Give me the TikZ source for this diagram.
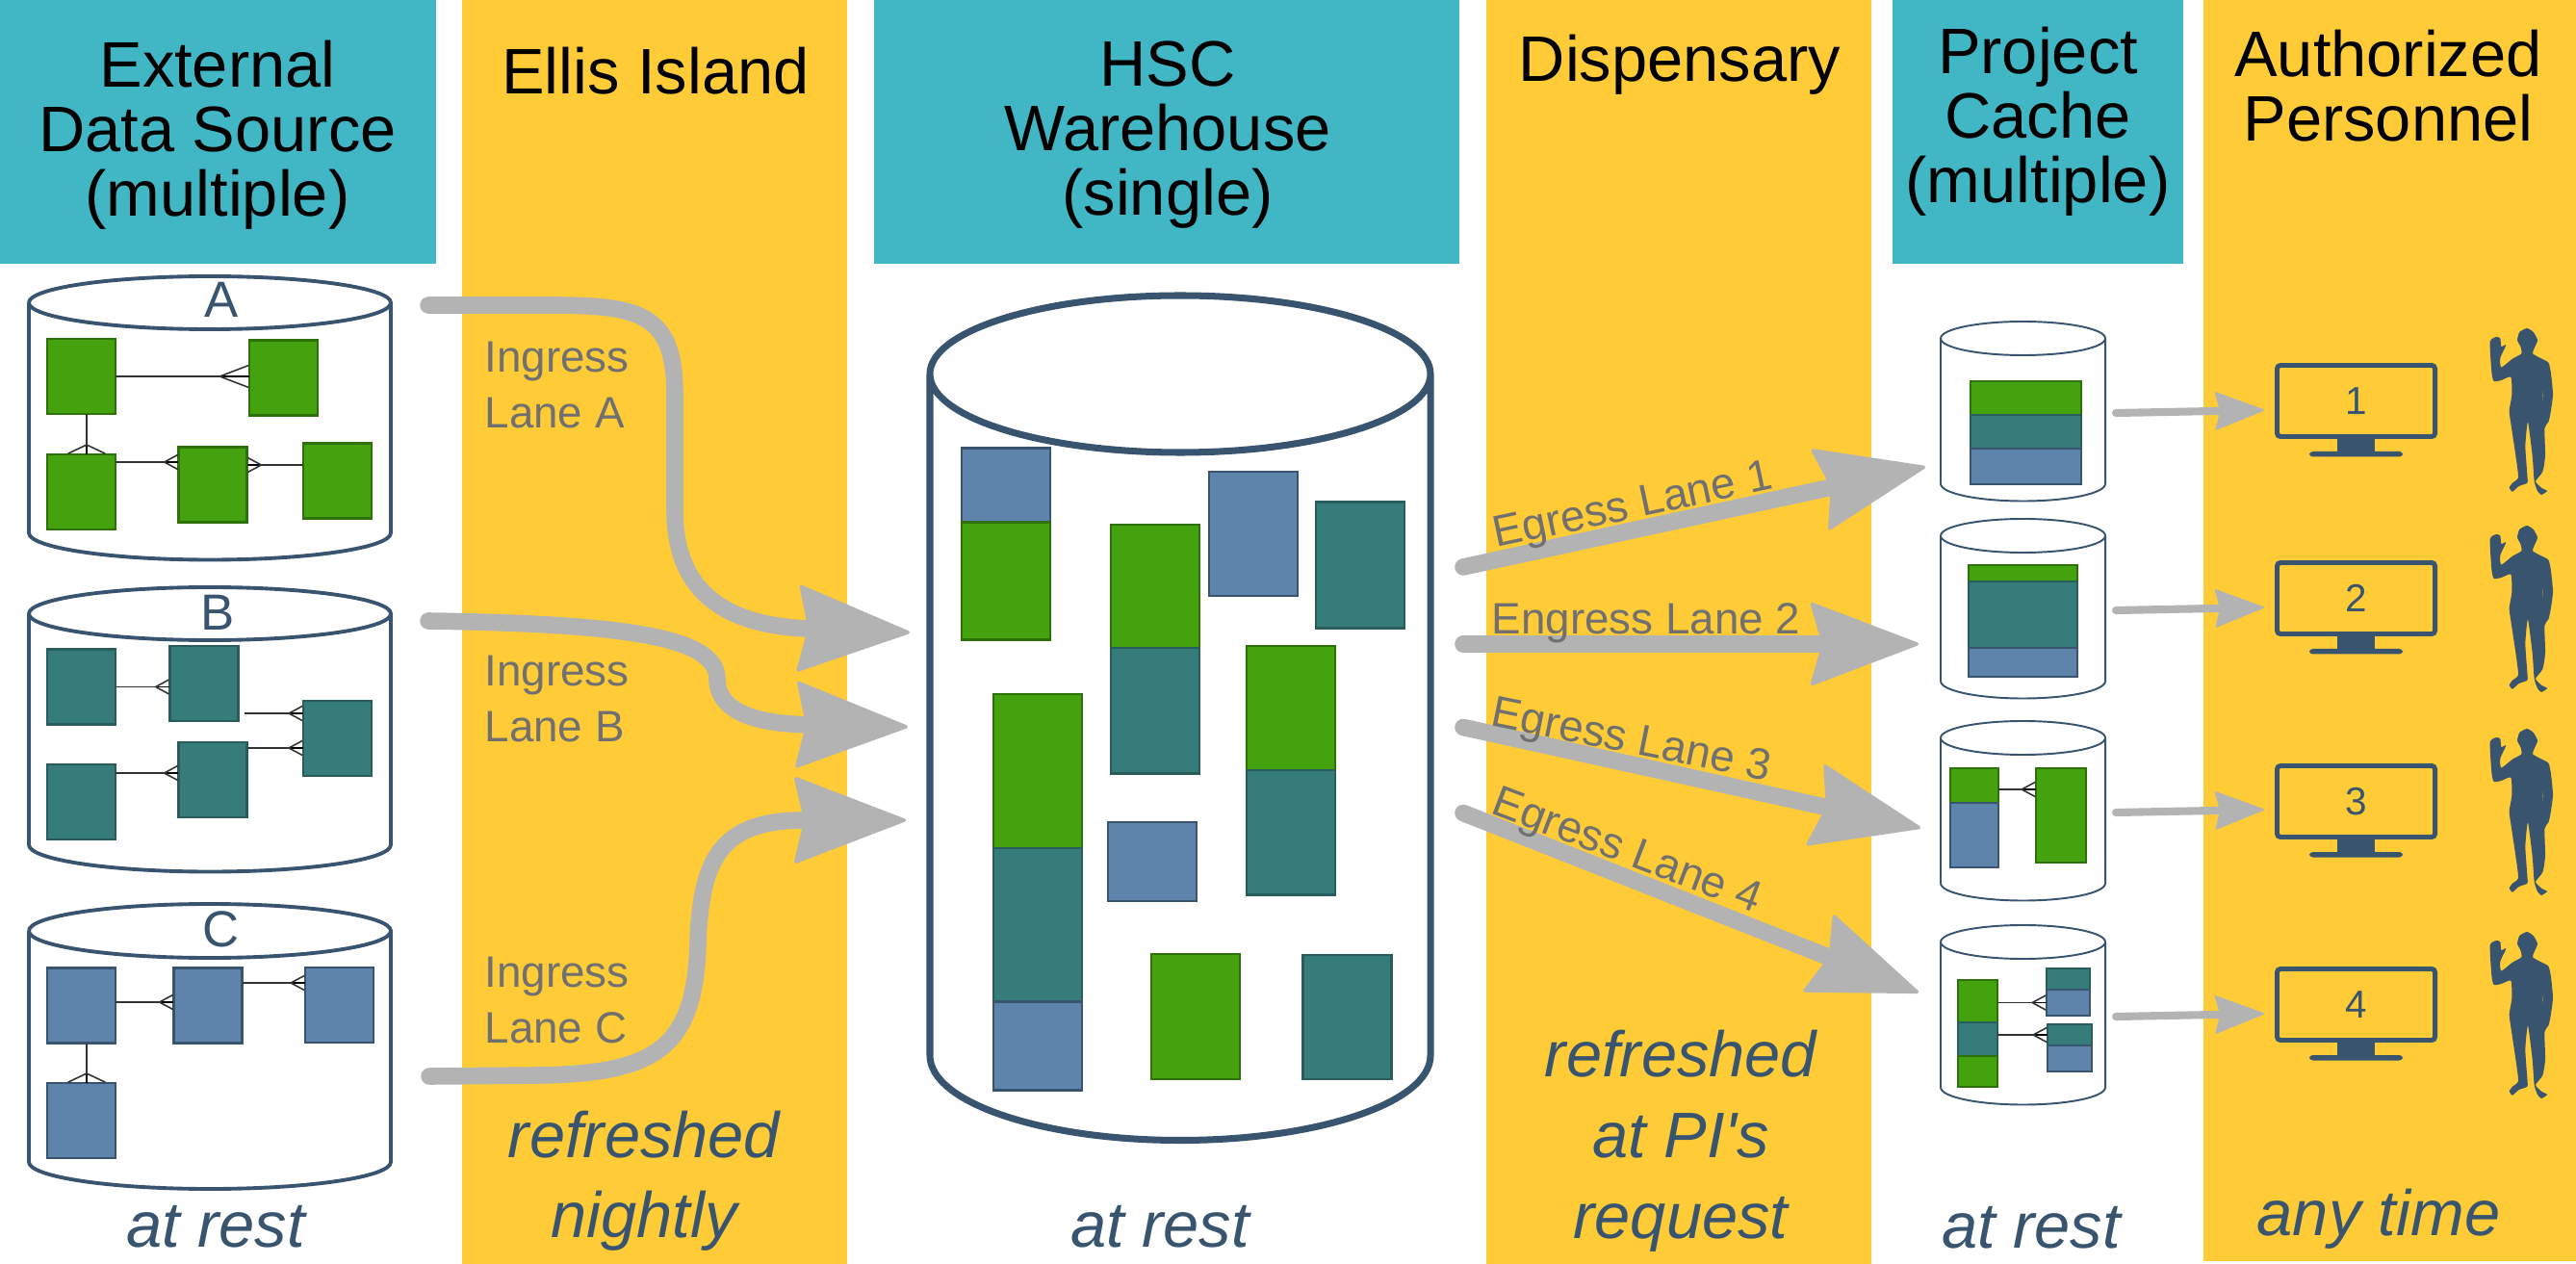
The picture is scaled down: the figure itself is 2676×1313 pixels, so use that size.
\documentclass[tikz,border=0pt]{standalone}
\usepackage{fontspec}
\setmainfont{Liberation Sans}[Ligatures=TeXOff]
\usepackage{xcolor}
\usetikzlibrary{arrows.meta, positioning}
\definecolor{hdrteal}{RGB}{65, 182, 196}
\definecolor{hdryellow}{RGB}{255, 204, 55}
\definecolor{navy}{RGB}{56, 84, 111}
\definecolor{lanegray}{RGB}{179, 179, 179}
\definecolor{labelgray}{RGB}{112, 112, 112}
\definecolor{tblgreen}{RGB}{67, 162, 13}
\definecolor{tblteal}{RGB}{54, 124, 123}
\definecolor{tblblue}{RGB}{95, 132, 171}
% name, centre x, top y, x radius, y radius, height of the side, y radius of the bottom
\newcommand{\drum}[8][]{%
  \coordinate (#2east) at (#3+#5,#4+#6+#7/2);
  \draw[drumline, #1] (#3-#5,#4+#6) arc[start angle=180, end angle=540, x radius=#5, y radius=#6]
    (#3-#5,#4+#6) -- ++(0,#7) arc[start angle=180, end angle=0, x radius=#5, y radius=#8] -- ++(0,-#7);
}

\begin{document}
\begin{tikzpicture}[
          x=0.01cm, y=-0.01cm,
          tealcol/.style={rectangle, fill=hdrteal, draw=none, inner sep=0pt, outer sep=0pt},
          yellowcol/.style={rectangle, fill=hdryellow, draw=none, inner sep=0pt, outer sep=0pt},
          head/.style={align=center, font=\fontsize{19}{19}\selectfont, inner sep=0pt},
          note/.style={align=center, text=navy, font=\fontsize{19}{23.7}\selectfont\itshape, inner sep=0pt},
          lanelabel/.style={align=left, text=labelgray, font=\fontsize{13}{16.5}\selectfont, inner sep=0pt},
          drumline/.style={draw=navy, line width=1.1pt, line join=round},
          tbl/.style={rectangle, inner sep=0pt, outer sep=0pt, line width=0.8pt},
          gbox/.style={tbl, fill=tblgreen, draw=tblgreen!70!black},
          tbox/.style={tbl, fill=tblteal, draw=tblteal!75!black},
          bbox/.style={tbl, fill=tblblue, draw=navy},
          smallbox/.style={minimum width=0.71cm, minimum height=0.78cm},
          bigbox/.style={minimum width=0.92cm},
          crow/.style 2 args={line width=0.45pt, draw=black!80, -{Straight Barb[reversed, length=#1, width=#2]}, preaction={draw, -}},
          link/.style={crow={4pt}{4.3pt}},
          letter/.style={text=navy, font=\fontsize{15}{15}\selectfont, inner sep=0pt},
          lane/.style={draw=lanegray, line width=5pt, line cap=round, -{Stealth[length=33pt, width=25pt, inset=3.5pt, line width=1pt, round]}},
          ingress/.style={lane, -{Stealth[length=34pt, width=26pt, inset=3pt, line width=1pt, round]}},
          viewlane/.style={draw=lanegray, line width=2.3pt, line cap=round, -{Stealth[length=15pt, width=11.5pt, inset=1.5pt, line width=0.5pt, round]}},
          screen/.style={rectangle, draw=navy, line width=1.4pt, rounded corners=1pt, text=navy, font=\fontsize{11.5}{11.5}\selectfont, minimum width=1.64cm, minimum height=0.74cm, inner sep=0pt},
          person/.pic={
            \fill[navy, even odd rule, scale=0.3333]
              plot[smooth cycle, tension=0.35] coordinates {(195,33) (215,45) (228,70) (218,95) (213,112) (235,125) (262,140) (270,175) (276,240) (268,300) (262,325) (250,345) (252,430) (244,480) (222,510) (240,530) (258,540) (240,552) (228,540) (218,510) (212,430) (198,325) (190,400) (196,490) (196,515) (170,525) (150,542) (140,530) (150,515) (168,498) (160,430) (145,330) (140,290) (148,240) (145,185) (115,195) (92,198) (85,170) (80,75) (100,60) (112,65) (115,90) (130,85) (112,125) (115,155) (150,128) (178,112) (175,90) (165,70) (172,45)}
              (240,210) -- (248,282) -- (245,240) -- cycle;
          }
        ]
          \useasboundingbox (0,0) rectangle (2676,1313);

          % Columns
          \node[tealcol, minimum width=4.53cm, minimum height=2.74cm] (colext) at (226.5,137) {};
          \node[yellowcol, minimum width=4cm, minimum height=13.13cm] (colellis) at (680,656.5) {};
          \node[tealcol, minimum width=6.08cm, minimum height=2.74cm] (colhsc) at (1212,137) {};
          \node[yellowcol, minimum width=4cm, minimum height=13.13cm] (coldisp) at (1744,656.5) {};
          \node[tealcol, minimum width=3.02cm, minimum height=2.74cm] (colcache) at (2117,137) {};
          \node[yellowcol, minimum width=3.87cm, minimum height=13.1cm] (colpers) at (2482.5,655) {};

          % Headers
          \node[head] (hext) at (226,140) {External\\Data Source\\(multiple)};
          \node[head, anchor=base] (hellis) at (681,98) {Ellis Island};
          \node[head] (hhsc) at (1213,140) {HSC\\Warehouse\\(single)};
          \node[head, anchor=base] (hdisp) at (1745,85) {Dispensary};
          \node[head] (hcache) at (2117,126) {Project\\Cache\\(multiple)};
          \node[head] (hpers) at (2481,89) {Authorized\\Personnel};

          % Footers
          \node[note, anchor=base] (fext) at (224,1295) {at rest};
          \node[note, anchor=base] (fellis1) at (669,1202) {refreshed};
          \node[note, anchor=base] (fellis2) at (669,1285) {nightly};
          \node[note, anchor=base] (fhsc) at (1205,1295) {at rest};
          \node[note, anchor=base] (fdisp1) at (1746,1118) {refreshed};
          \node[note, anchor=base] (fdisp2) at (1746,1202) {at PI's};
          \node[note, anchor=base] (fdisp3) at (1746,1286) {request};
          \node[note, anchor=base] (fcache) at (2110,1296) {at rest};
          \node[note, anchor=base] (fpers) at (2471,1283) {any time};

          % External sources
          \drum{dba}{218}{287}{188}{27.5}{239}{28}
          \drum{dbb}{218}{610}{188}{27.5}{240}{28}
          \drum{dbc}{218}{939}{188}{28}{240}{28}
          \node[letter] (la) at (230,311) {A};
          \node[letter] (lb) at (226,636) {B};
          \node[letter] (lc) at (230,965) {C};

          % Source A tables
          \node[gbox, smallbox] (a1) at (84.5,391) {};
          \node[gbox, smallbox] (a2) at (294.5,392.5) {};
          \node[gbox, smallbox] (a3) at (84.5,511) {};
          \node[gbox, smallbox] (a4) at (221,503.5) {};
          \node[gbox, smallbox] (a5) at (350.5,499.5) {};
          \draw[crow={8.5pt}{6.5pt}] (a1.east) -- (a1.east -| a2.west);
          \draw[crow={2.6pt}{11pt}] (a1.south -| 90,0) -- (a3.north -| 90,0);
          \draw[link] (a3.east |- 0,480) -- (a4.west |- 0,480);
          \draw[link] (a5.west |- 0,483) -- (a4.east |- 0,483);

          % Source B tables
          \node[tbox, smallbox] (b1) at (84.5,713.5) {};
          \node[tbox, smallbox] (b2) at (212,710) {};
          \node[tbox, smallbox] (b3) at (350.5,767) {};
          \node[tbox, smallbox] (b4) at (221,810) {};
          \node[tbox, smallbox] (b5) at (84.5,833) {};
          \draw[link] (b1.east) -- (b1.east -| b2.west);
          \draw[link] ([xshift=0.6mm]b2.east |- 0,741) -- (b3.west |- 0,741);
          \draw[link] (b4.east |- 0,777) -- (b3.west |- 0,777);
          \draw[link] (b5.east |- 0,803) -- (b4.west |- 0,803);

          % Source C tables
          \node[bbox, smallbox] (c1) at (84.5,1044.5) {};
          \node[bbox, smallbox] (c2) at (216,1044.5) {};
          \node[bbox, smallbox] (c3) at (352.5,1044) {};
          \node[bbox, smallbox] (c4) at (84.5,1164) {};
          \draw[link] (c1.east |- 0,1041) -- (c2.west |- 0,1041);
          \draw[link] (c2.east |- 0,1021) -- (c3.west |- 0,1021);
          \draw[crow={2.6pt}{11pt}] (c1.south -| 90,0) -- (c4.north -| 90,0);

          % Warehouse
          \drum[line width=2pt]{hsc}{1226}{307}{260}{81.5}{708}{88}
          \node[bbox, bigbox, minimum height=0.765cm] (w1) at (1045,504) {};
          \node[gbox, bigbox, minimum height=1.22cm, below=0pt of w1] (w2) {};
          \node[gbox, bigbox, minimum height=1.28cm] (w3) at (1200,609) {};
          \node[tbox, bigbox, minimum height=1.30cm, below=0pt of w3] (w4) {};
          \node[bbox, bigbox, minimum height=1.29cm] (w5) at (1302,554.5) {};
          \node[tbox, bigbox, minimum height=1.305cm] (w6) at (1413,587) {};
          \node[gbox, bigbox, minimum height=1.29cm] (w7) at (1341,735.5) {};
          \node[tbox, bigbox, minimum height=1.29cm, below=0pt of w7] (w8) {};
          \node[gbox, bigbox, minimum height=1.6cm] (w9) at (1078,801) {};
          \node[tbox, bigbox, minimum height=1.59cm, below=0pt of w9] (w10) {};
          \node[bbox, bigbox, minimum height=0.92cm, below=0pt of w10] (w11) {};
          \node[bbox, bigbox, minimum height=0.82cm] (w12) at (1197,895) {};
          \node[gbox, bigbox, minimum height=1.3cm] (w13) at (1242,1056) {};
          \node[tbox, bigbox, minimum height=1.29cm] (w14) at (1399.5,1056.5) {};

          % Project caches
          \drum[line width=0.55pt]{cache1}{2101.5}{334}{85.5}{17.5}{151}{18}
          \drum[line width=0.55pt]{cache2}{2101.5}{539}{85.5}{17.5}{151}{18}
          \drum[line width=0.55pt]{cache3}{2101.5}{749}{85.5}{17.5}{151}{18}
          \drum[line width=0.55pt]{cache4}{2101.5}{961}{85.5}{17.5}{151}{18}

          \node[gbox, minimum width=1.15cm, minimum height=0.35cm] (k1a) at (2104.5,413.5) {};
          \node[tbox, minimum width=1.15cm, minimum height=0.35cm, below=0pt of k1a] (k1b) {};
          \node[bbox, minimum width=1.15cm, minimum height=0.37cm, below=0pt of k1b] (k1c) {};

          \node[gbox, minimum width=1.13cm, minimum height=0.17cm] (k2a) at (2101.5,595.5) {};
          \node[tbox, minimum width=1.13cm, minimum height=0.69cm, below=0pt of k2a] (k2b) {};
          \node[bbox, minimum width=1.13cm, minimum height=0.30cm, below=0pt of k2b] (k2c) {};

          \node[gbox, minimum width=0.5cm, minimum height=0.36cm] (k3a) at (2051,816) {};
          \node[bbox, minimum width=0.5cm, minimum height=0.67cm, below=0pt of k3a] (k3b) {};
          \node[gbox, minimum width=0.52cm, minimum height=0.98cm] (k3c) at (2141,847) {};
          \draw[link] (k3a.east |- 0,820) -- (k3c.west |- 0,820);

          \node[gbox, minimum width=0.41cm, minimum height=0.44cm] (k4a) at (2054.5,1040) {};
          \node[tbox, minimum width=0.41cm, minimum height=0.35cm, below=0pt of k4a] (k4b) {};
          \node[gbox, minimum width=0.41cm, minimum height=0.32cm, below=0pt of k4b] (k4c) {};
          \node[tbox, minimum width=0.45cm, minimum height=0.22cm] (k4d) at (2148.5,1017) {};
          \node[bbox, minimum width=0.45cm, minimum height=0.27cm, below=0pt of k4d] (k4e) {};
          \node[tbox, minimum width=0.46cm, minimum height=0.22cm] (k4f) at (2150,1075) {};
          \node[bbox, minimum width=0.46cm, minimum height=0.27cm, below=0pt of k4f] (k4g) {};
          \draw[link] (k4a.east |- k4e.west) -- (k4e.west);
          \draw[link] (k4b.east |- k4f.west) -- (k4f.west);

          % Ingress lanes
          \coordinate (ina) at (445,317);
          \coordinate (inb) at (445,645);
          \coordinate (inc) at (446,1118);
          \coordinate (whA) at (945,657);
          \coordinate (whB) at (943,755);
          \coordinate (whC) at (941,852);
          \draw[ingress] (ina) -- (570,317) .. controls (665,317) and (701,325) .. (701,410) -- (701,530) .. controls (701,620) and (760,650) .. (whA);
          \draw[ingress] (inb) .. controls (640,648) and (745,660) .. (745,705) .. controls (745,745) and (800,752) .. (whB);
          \draw[ingress] (inc) -- (560,1117) .. controls (680,1115) and (722,1090) .. (725,980) .. controls (728,890) and (750,852) .. (whC);
          \node[lanelabel, anchor=base west] (ia1) at (503,387) {Ingress};
          \node[lanelabel, anchor=base west] (ia2) at (503,445) {Lane A};
          \node[lanelabel, anchor=base west] (ib1) at (503,712) {Ingress};
          \node[lanelabel, anchor=base west] (ib2) at (503,771) {Lane B};
          \node[lanelabel, anchor=base west] (ic1) at (503,1025) {Ingress};
          \node[lanelabel, anchor=base west] (ic2) at (503,1083) {Lane C};

          % Egress lanes
          \coordinate (out1) at (1520,589);
          \coordinate (out2) at (1520,669);
          \coordinate (out3) at (1520,755.5);
          \coordinate (out4) at (1520,844.5);
          \coordinate (ca1) at (2000,485);
          \coordinate (ca2) at (1993,669);
          \coordinate (ca3) at (1995,860);
          \coordinate (ca4) at (1993,1031);
          \draw[lane] (out1) -- (ca1);
          \draw[lane] (out2) -- (ca2);
          \draw[lane] (out3) -- (ca3);
          \draw[lane] (out4) -- (ca4);
          \node[lanelabel, anchor=base west, rotate=12] (e1) at (1554,569) {Egress Lane 1};
          \node[lanelabel, anchor=base] (e2) at (1710,659) {Engress Lane 2};
          \node[lanelabel, anchor=base west, rotate=-11.4] (e3) at (1547,753) {Egress Lane 3};
          \node[lanelabel, anchor=base west, rotate=-20.8] (e4) at (1547,844) {Egress Lane 4};

          % Monitors and people
          \foreach \i/\off in {1/0, 2/205, 3/416, 4/627} {
            \node[screen] (mon\i) at (2447.5,416.5+\off) {\i};
            \fill[navy] (mon\i.south -| 2428,0) rectangle (2467,470+\off);
            \fill[navy, rounded corners=1pt] (2399,469+\off) rectangle (2496,474.5+\off);
            \draw[viewlane] ([xshift=1.1mm,yshift=-0.2mm]cache\i east) -- ([xshift=-1.1mm,yshift=0.1mm]cache\i east -| mon\i.west);
            \pic at (2560,330+\off) {person};
          }
        \end{tikzpicture}
\end{document}
